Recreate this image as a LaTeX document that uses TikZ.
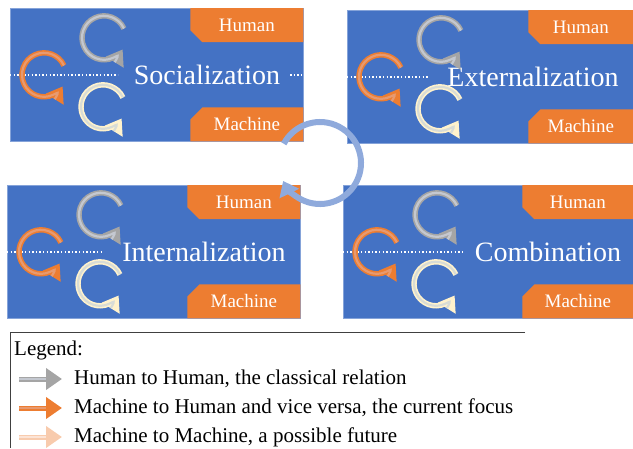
\documentclass[tikz,border=0pt]{standalone}
\usepackage{fontspec}
\setmainfont{Liberation Serif}
\usepackage{xcolor}
\usetikzlibrary{
    arrows.meta,
    positioning,
    shapes.misc,
    calc
}

\definecolor{boxblue}{HTML}{4472C4}
\definecolor{taborange}{HTML}{ED7D31}
\definecolor{spinblue}{HTML}{8FAADC}
\definecolor{hhgrey}{HTML}{A5A5A5}
\definecolor{hhgreylight}{HTML}{C4C8D0}
\definecolor{mhorange}{HTML}{ED7D31}
\definecolor{mhorangelight}{HTML}{E79A70}
\definecolor{mmcream}{HTML}{FFF2CC}
\definecolor{mmcreamlight}{HTML}{D8DCD6}
\definecolor{mmpeach}{HTML}{F8CBAD}
\definecolor{mmpeachlight}{HTML}{FCE4D6}

\begin{document}
\begin{tikzpicture}[
        x=1pt, y=1pt,
        quadbox/.style={
            rectangle,
            fill=boxblue,
            draw=boxblue!65!white,
            line width=0.6pt,
            minimum height=133pt,
            inner sep=0pt
        },
        quadtab/.style={
            chamfered rectangle,
            chamfered rectangle xsep=6pt,
            chamfered rectangle ysep=6pt,
            fill=taborange,
            text=white,
            font=\fontsize{19}{21}\selectfont,
            minimum height=34pt,
            inner sep=0pt
        },
        quadtitle/.style={
            text=white,
            font=\fontsize{28}{32}\selectfont,
            inner sep=0pt
        },
        dotline/.style={
            white,
            line width=1.4pt,
            dash pattern=on 1.4pt off 2.2pt
        },
        cyclearc/.style 2 args={
            draw=#1,
            line width=5.4pt,
            -{Triangle[length=15pt, width=20pt]},
            postaction={draw=#2, line width=2.2pt, arrows=-, shorten >=15pt}
        },
        legarrow/.style 2 args={
            draw=#1,
            line width=5pt,
            -{Triangle[length=16pt, width=21pt]},
            postaction={draw=#2, line width=2pt, arrows=-, shorten >=16pt}
        },
        spinarrow/.style={
            spinblue,
            line width=6pt,
            -{Triangle[length=14pt, width=21pt]}
        },
        legtext/.style={
            font=\fontsize{21}{23}\selectfont,
            inner sep=0pt,
            anchor=west
        }
    ]

    \useasboundingbox (0,0) rectangle (633,-448);

    % the four quadrants
    \foreach \q/\bx/\by/\bw/\tw/\tx/\dx/\qtitle in {
            soc/10/8/293/113/207/118/Socialization,
            ext/347/10/286/105/533/428/Externalization,
            int/7/185/293/113/204/103/Internalization,
            comb/343/185/290/111/548/462/Combination
        }{
        \node[quadbox, minimum width=\bw pt, anchor=north west] (\q) at (\bx,-\by) {};
        \node[quadtab, minimum width=\tw pt, chamfered rectangle corners=south west,
            anchor=north east] (\q-human) at (\q.north east) {Human};
        \node[quadtab, minimum width=\tw pt, chamfered rectangle corners=north west,
            anchor=south east] (\q-machine) at (\q.south east) {Machine};
        \draw[dotline] (\q.west) -- (\dx,0 |- \q.west);
        \node[quadtitle] (\q-title) at (\tx,0 |- \q.west) {\qtitle};

        \draw[cyclearc={hhgrey}{hhgreylight}] ($(\q.west)+(94,37)$) ++(25:22)
            arc[start angle=25, end angle=328, radius=22];
        \draw[cyclearc={mhorange}{mhorangelight}] ($(\q.west)+(34,0)$) ++(25:22)
            arc[start angle=25, end angle=328, radius=22];
        \draw[cyclearc={mmcream}{mmcreamlight}] ($(\q.west)+(93,-32)$) ++(25:22)
            arc[start angle=25, end angle=328, radius=22];
    }
    \draw[dotline] (soc-title.east) ++(10,0) -- (soc.east);

    % the cycle between them
    \coordinate (spin) at (320,-163);
    \draw[spinarrow] (spin) ++(152:41) arc[start angle=152, end angle=-154, radius=41];

    % legend
    \draw[black!75, line width=0.8pt] (525,-332) -- (10,-332) -- (10,-448);
    \node[legtext] (legend) at (14,-350) {Legend:};
    \node[legtext] (leg-hh) at (74,-379) {Human to Human, the classical relation};
    \node[legtext] (leg-mh) at (74,-408) {Machine to Human and vice versa, the current focus};
    \node[legtext] (leg-mm) at (74,-437) {Machine to Machine, a possible future};

    \draw[legarrow={hhgrey}{hhgreylight}] ([xshift=-55pt]leg-hh.west) -- ([xshift=-12pt]leg-hh.west);
    \draw[legarrow={mhorange}{mhorangelight}] ([xshift=-55pt]leg-mh.west) -- ([xshift=-12pt]leg-mh.west);
    \draw[legarrow={mmpeach}{mmpeachlight}] ([xshift=-55pt]leg-mm.west) -- ([xshift=-12pt]leg-mm.west);

\end{tikzpicture}
\end{document}
